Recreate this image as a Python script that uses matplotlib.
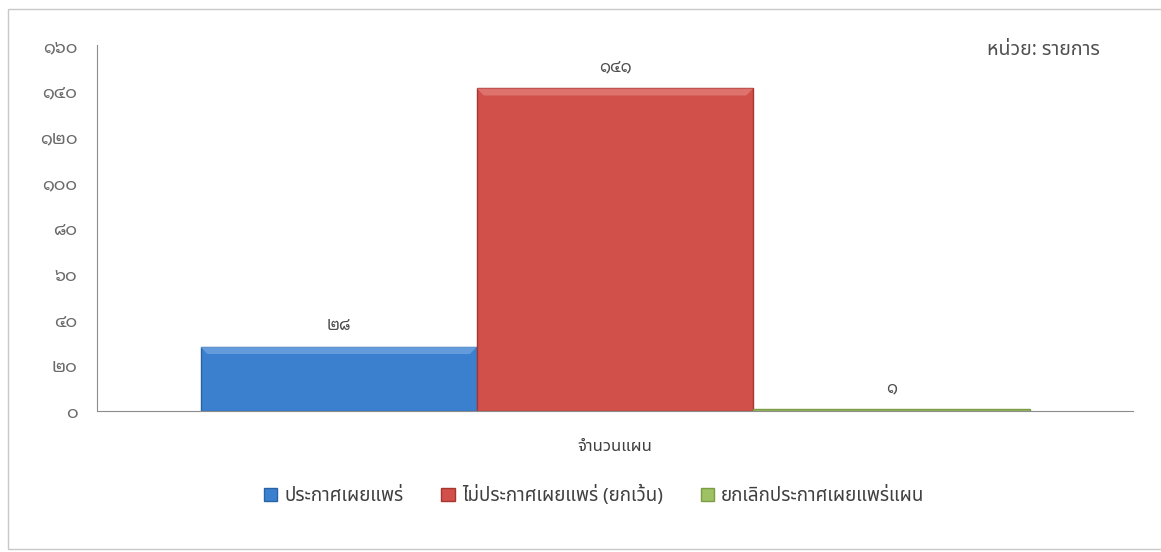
import matplotlib
matplotlib.use('Agg')
import numpy as np
import matplotlib.pyplot as plt
from matplotlib.patches import Rectangle, Polygon

plt.rcParams['font.family'] = ['Noto Sans Thai', 'DejaVu Sans']

# ข้อมูล
category = 'จำนวนแผน'
series_names = ['ประกาศเผยแพร่', 'ไม่ประกาศเผยแพร่ (ยกเว้น)', 'ยกเลิกประกาศเผยแพร่แผน']
values = [28, 141, 1]
value_labels = ['๒๘', '๑๔๑', '๑']
yticks = [0, 20, 40, 60, 80, 100, 120, 140, 160]
ytick_labels = ['๐', '๒๐', '๔๐', '๖๐', '๘๐', '๑๐๐', '๑๒๐', '๑๔๐', '๑๖๐']
colors = ['#3b80cf', '#d2504a', '#9dc163']
light_colors = ['#6fa3df', '#e27c76', '#bcd78e']
edge_colors = ['#2a62a6', '#a8352f', '#7c9c45']

digit_font = ['Noto Sans Thai Looped', 'DejaVu Sans']

fig = plt.figure(figsize=(11.61, 5.52), dpi=100)
ax = fig.add_axes([0.0835, 0.2554, 0.8925, 0.6631])

# กรอบนอกของแผนภูมิ
fig.patches.append(Rectangle((0.007, 0.006), 1.2, 0.978, transform=fig.transFigure,
                             fill=False, edgecolor='#c8c8c8', linewidth=1.0))

n = len(values)
width = 0.8 / n
x = -0.4 + width / 2 + np.arange(n) * width
ax.set_xlim(-0.5, 0.5)
ax.set_ylim(0, 160)

bars = ax.bar(x, values, width=width, color=colors, edgecolor=edge_colors, linewidth=1.0)
for b, name in zip(bars, series_names):
    b.set_label(name)

# เอฟเฟกต์ขอบนูน (bevel) ด้านบนของแท่ง
bev_x = 1.0 / 1036 * 7      # ~7 px ในหน่วยข้อมูลแกน x
bev_y = 160.0 / 366 * 7     # ~7 px ในหน่วยข้อมูลแกน y
for b, lc in zip(bars, light_colors):
    x0, w, h = b.get_x(), b.get_width(), b.get_height()
    if h < 2 * bev_y:
        continue
    top = Polygon([(x0, h), (x0 + w, h), (x0 + w - bev_x, h - bev_y), (x0 + bev_x, h - bev_y)],
                  closed=True, facecolor=lc, edgecolor='none', alpha=0.8, zorder=3)
    ax.add_patch(top)

# ป้ายค่าบนแท่ง
for xi, v, lab in zip(x, values, value_labels):
    ax.annotate(lab, (xi, v), xytext=(0, 15), textcoords='offset points',
                ha='center', va='center', fontsize=12, family=digit_font, color='#505050')

ax.set_yticks(yticks)
ax.set_yticklabels(ytick_labels, family=digit_font)
ax.set_xticks([0])
ax.set_xticklabels([category])
ax.tick_params(axis='y', length=0, pad=14, labelsize=13, labelcolor='#6a6a6a')
ax.tick_params(axis='x', length=0, pad=20, labelsize=12, labelcolor='#404040')

for s in ['top', 'right']:
    ax.spines[s].set_visible(False)
ax.spines['left'].set_color('#8c8c8c')
ax.spines['bottom'].set_color('#8c8c8c')

ax.text(0.968, 0.985, 'หน่วย: รายการ', transform=ax.transAxes, ha='right', va='center',
        fontsize=14, color='#505050')

fig.legend(handles=list(bars), labels=series_names, loc='center', bbox_to_anchor=(0.512, 0.104),
           ncol=3, frameon=False, fontsize=13.5, handlelength=0.7, handleheight=0.7,
           columnspacing=2.0, handletextpad=0.4, labelcolor='#404040')

fig.savefig('out.png', dpi=100)
